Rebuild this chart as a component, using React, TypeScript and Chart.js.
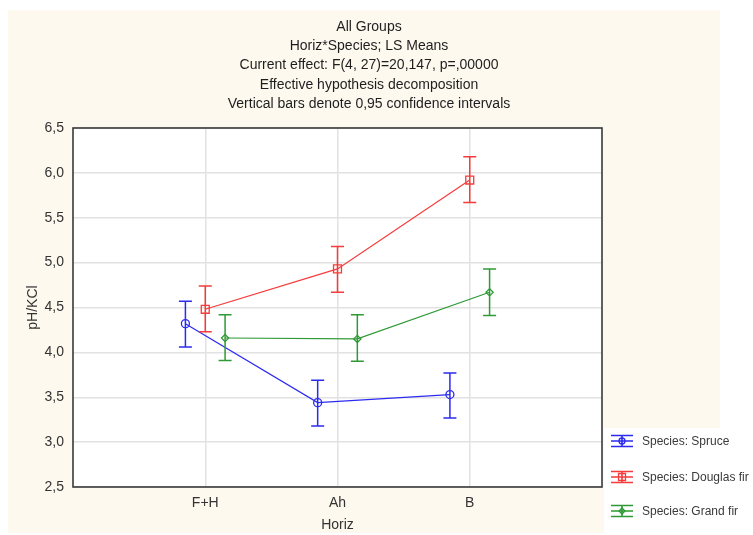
import React, { useEffect, useRef } from 'react';
import { Chart, registerables } from 'chart.js';
Chart.register(...registerables);

const categories = ['F+H', 'Ah', 'B'];
const seriesNames = ['Species: Spruce', 'Species: Douglas fir', 'Species: Grand fir'];
const spruceMean = [4.32, 3.44, 3.53];
const spruceLow = [4.06, 3.18, 3.27];
const spruceHigh = [4.57, 3.69, 3.77];
const douglasMean = [4.48, 4.93, 5.92];
const douglasLow = [4.23, 4.67, 5.67];
const douglasHigh = [4.74, 5.18, 6.18];
const grandMean = [4.16, 4.15, 4.67];
const grandLow = [3.91, 3.9, 4.41];
const grandHigh = [4.42, 4.42, 4.93];
const yMin = 2.5;
const yMax = 6.5;
const yStep = 0.5;
const titleLines = [
  'All Groups',
  'Horiz*Species; LS Means',
  'Current effect: F(4, 27)=20,147, p=,00000',
  'Effective hypothesis decomposition',
  'Vertical bars denote 0,95 confidence intervals',
];
const xTitle = 'Horiz';
const yTitle = 'pH/KCl';

const means = [spruceMean, douglasMean, grandMean];
const lows = [spruceLow, douglasLow, grandLow];
const highs = [spruceHigh, douglasHigh, grandHigh];
const colors = ['#2b2bf0', '#f53b3b', '#2f9a35'];
const offsets = [-0.15, 0, 0.15];
const pointStyles = ['circle', 'rect', 'rectRot'];
const pointRadii = [4, 5.6, 3.6];

const decorPlugin = {
  id: 'decor',
  beforeDraw(chart: any) {
    const { ctx, chartArea: a } = chart;
    ctx.save();
    ctx.fillStyle = '#ffffff';
    ctx.fillRect(0, 0, chart.width, chart.height);
    ctx.fillStyle = '#fdf9ef';
    ctx.fillRect(8, 10, 712, 523);
    ctx.fillStyle = '#ffffff';
    ctx.fillRect(604, 428, 149, 107);
    ctx.fillRect(a.left, a.top, a.right - a.left, a.bottom - a.top);
    ctx.restore();
  },
  afterDatasetsDraw(chart: any) {
    const { ctx } = chart;
    const xs = chart.scales.x;
    const ys = chart.scales.y;
    ctx.save();
    ctx.lineWidth = 1.5;
    for (let s = 0; s < means.length; s++) {
      ctx.strokeStyle = colors[s];
      for (let j = 0; j < categories.length; j++) {
        const px = xs.getPixelForValue(j + 1 + offsets[s]);
        const pl = ys.getPixelForValue(lows[s][j]);
        const ph = ys.getPixelForValue(highs[s][j]);
        ctx.beginPath();
        ctx.moveTo(px, pl);
        ctx.lineTo(px, ph);
        ctx.moveTo(px - 6.5, pl);
        ctx.lineTo(px + 6.5, pl);
        ctx.moveTo(px - 6.5, ph);
        ctx.lineTo(px + 6.5, ph);
        ctx.stroke();
      }
    }
    ctx.restore();
  },
  afterDraw(chart: any) {
    const { ctx, chartArea: a } = chart;
    ctx.save();
    // frame
    ctx.strokeStyle = '#3a3a3a';
    ctx.lineWidth = 1.6;
    ctx.strokeRect(a.left, a.top, a.right - a.left, a.bottom - a.top);
    // titles
    ctx.fillStyle = '#1e1e1e';
    ctx.textAlign = 'center';
    ctx.textBaseline = 'middle';
    ctx.font = '14px "Liberation Sans Narrow", "Liberation Sans", Arial, sans-serif';
    titleLines.forEach((t, i) => ctx.fillText(t, 369, 27 + i * 19.3));
    // axis titles
    ctx.fillStyle = '#333333';
    ctx.font = '14px "Liberation Sans", Arial, sans-serif';
    ctx.fillText(xTitle, (a.left + a.right) / 2, 525);
    ctx.save();
    ctx.translate(33, (a.top + a.bottom) / 2);
    ctx.rotate(-Math.PI / 2);
    ctx.fillText(yTitle, 0, 0);
    ctx.restore();
    // legend
    const cys = [441, 477, 511];
    for (let s = 0; s < seriesNames.length; s++) {
      const cx = 622;
      const cy = cys[s];
      ctx.strokeStyle = colors[s];
      ctx.lineWidth = 1.6;
      ctx.beginPath();
      ctx.moveTo(cx - 11, cy - 5.5);
      ctx.lineTo(cx + 11, cy - 5.5);
      ctx.moveTo(cx - 11, cy + 5.5);
      ctx.lineTo(cx + 11, cy + 5.5);
      ctx.moveTo(cx - 11, cy);
      ctx.lineTo(cx + 11, cy);
      ctx.moveTo(cx, cy - 5.5);
      ctx.lineTo(cx, cy + 5.5);
      ctx.stroke();
      ctx.lineWidth = 1.3;
      ctx.beginPath();
      if (s === 0) {
        ctx.arc(cx, cy, 3, 0, Math.PI * 2);
      } else if (s === 1) {
        ctx.rect(cx - 3.5, cy - 3.5, 7, 7);
      } else {
        ctx.moveTo(cx, cy - 3);
        ctx.lineTo(cx + 3, cy);
        ctx.lineTo(cx, cy + 3);
        ctx.lineTo(cx - 3, cy);
        ctx.closePath();
      }
      ctx.stroke();
      ctx.fillStyle = '#3a3a3a';
      ctx.textAlign = 'left';
      ctx.font = '12px "Liberation Sans", Arial, sans-serif';
      ctx.fillText(seriesNames[s], 642, cy + 1);
    }
    ctx.restore();
  },
};

export default function App() {
  const ref = useRef<HTMLCanvasElement>(null);
  useEffect(() => {
    const chart = new Chart(ref.current as HTMLCanvasElement, {
      type: 'line',
      data: {
        datasets: means.map((m, i) => ({
          label: seriesNames[i],
          data: m.map((v, j) => ({ x: j + 1 + offsets[i], y: v })),
          borderColor: colors[i],
          backgroundColor: 'transparent',
          borderWidth: 1.2,
          pointStyle: pointStyles[i] as any,
          pointRadius: pointRadii[i],
          pointBorderColor: colors[i],
          pointBackgroundColor: 'transparent',
          pointBorderWidth: 1.3,
          tension: 0,
        })),
      },
      options: {
        animation: false,
        responsive: false,
        events: [],
        layout: { padding: { left: 0, top: 128, right: 151, bottom: 0 } },
        plugins: { legend: { display: false }, tooltip: { enabled: false }, title: { display: false } },
        scales: {
          x: {
            type: 'linear',
            min: 0,
            max: categories.length + 1,
            afterBuildTicks: (s: any) => {
              s.ticks = categories.map((_, i) => ({ value: i + 1 }));
            },
            afterFit: (s: any) => {
              s.height = 48;
            },
            ticks: {
              autoSkip: false,
              maxRotation: 0,
              padding: 8,
              color: '#333333',
              font: { family: '"Liberation Sans", Arial, sans-serif', size: 14 },
              callback: (v: any) => categories[Math.round(v) - 1] ?? '',
            },
            grid: { color: '#e2e2e2', lineWidth: 1.5, drawTicks: false },
            border: { display: false },
          },
          y: {
            min: yMin,
            max: yMax,
            afterFit: (s: any) => {
              s.width = 73;
            },
            ticks: {
              stepSize: yStep,
              padding: 9,
              color: '#333333',
              font: { family: '"Liberation Sans", Arial, sans-serif', size: 14 },
              callback: (v: any) => Number(v).toFixed(1).replace('.', ','),
            },
            grid: { color: '#e2e2e2', lineWidth: 1.5, drawTicks: false },
            border: { display: false },
          },
        },
      },
      plugins: [decorPlugin],
    });
    return () => chart.destroy();
  }, []);
  return (
    <div style={{ position: 'fixed', left: 0, top: 0, width: 753, height: 535 }}>
      <canvas ref={ref} width={753} height={535} style={{ display: 'block', width: 753, height: 535 }} />
    </div>
  );
}
